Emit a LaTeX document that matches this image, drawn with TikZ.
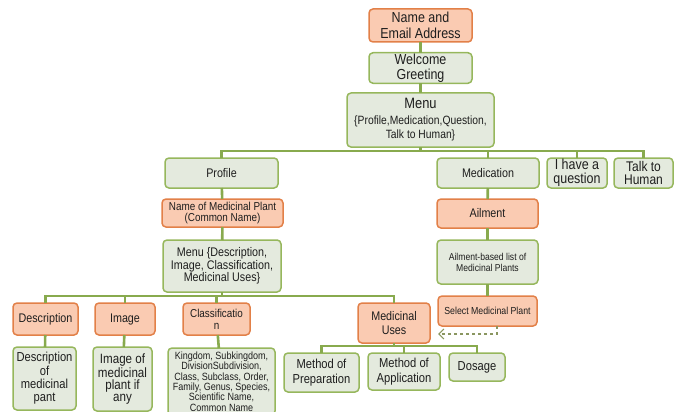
\documentclass[tikz,border=0pt]{standalone}
\usepackage{fontspec}
\setmainfont[FakeStretch=0.86]{Liberation Sans}
\usetikzlibrary{arrows.meta,positioning}
\definecolor{orfill}{RGB}{250,203,178}
\definecolor{ordraw}{RGB}{226,128,72}
\definecolor{grfill}{RGB}{228,234,222}
\definecolor{grdraw}{RGB}{150,183,92}
\definecolor{grline}{RGB}{136,170,78}
\definecolor{txt}{RGB}{30,30,30}
\definecolor{dashcol}{RGB}{138,150,96}
\newcommand{\fsz}[2]{\fontsize{#1}{#2}\selectfont}

\begin{document}
\begin{tikzpicture}[x=1pt,y=-1pt,
  box/.style={draw,rectangle,rounded corners=4pt,line width=1.5pt,align=center,
    inner sep=1pt,outer sep=0pt,text=txt,font=\fsz{12.5}{13}},
  obox/.style={box,fill=orfill,draw=ordraw},
  gbox/.style={box,fill=grfill,draw=grdraw},
  link/.style={draw=grline,line width=2.6pt}]

  \useasboundingbox (0,0) rectangle (675,412);

  \coordinate (bar1) at (420.5,151);
  \coordinate (bar2) at (222,296);
  \coordinate (bar3) at (394,346);

  % top chain
  \node[obox,minimum width=103pt,minimum height=33pt,font=\fsz{14.5}{16}] (name) at (420.5,25.5) {Name and\\Email Address};
  \node[gbox,minimum width=103pt,minimum height=28pt,font=\fsz{14.5}{15}] (welcome) at (420.5,68) {Welcome\\Greeting};
  \node[gbox,minimum width=147pt,minimum height=54pt,font=\fsz{12}{14.5}] (menu) at (420.5,120)
    {{\fsz{15}{17}Menu}\\[1pt]\{Profile,Medication,Question,\\Talk to Human\}};

  \node[gbox,minimum width=113pt,minimum height=30pt] (profile) at (221.5,173) {Profile};
  \node[gbox,minimum width=102pt,minimum height=30pt] (medication) at (488,173) {Medication};
  \node[gbox,minimum width=60pt,minimum height=30pt,font=\fsz{14.5}{13.5}] (question) at (577,173) {I have a\\question};
  \node[gbox,minimum width=59pt,minimum height=30pt,font=\fsz{14}{13.5}] (talk) at (643.5,173) {Talk to\\Human};

  % profile branch
  \node[obox,minimum width=121pt,minimum height=28pt,font=\fsz{11.5}{11.5}] (plantname) at (222.5,213) {Name of Medicinal  Plant\\(Common  Name)};
  \node[gbox,minimum width=118pt,minimum height=52pt,font=\fsz{12.5}{12.5}] (menu2) at (222,266)
    {Menu \{Description,\\Image, Classification,\\Medicinal  Uses\}};

  \node[obox,minimum width=65pt,minimum height=32pt] (descr) at (45.5,319) {Description};
  \node[obox,minimum width=60pt,minimum height=32pt] (image) at (125,319) {Image};
  \node[obox,minimum width=67pt,minimum height=32pt,font=\fsz{11.5}{12}] (classif) at (216.5,319) {Classificatio\\n};
  \node[obox,minimum width=72pt,minimum height=40pt,font=\fsz{12.5}{14}] (meduses) at (394,323) {Medicinal\\Uses};

  \node[gbox,minimum width=63pt,minimum height=63pt,font=\fsz{13}{13.3}] (descrtxt) at (44.5,378.5) {Description\\of\\medicinal\\pant};
  \node[gbox,minimum width=59pt,minimum height=64pt,font=\fsz{13.5}{12.2}] (imagetxt) at (122.5,379) {Image of\\medicinal\\plant if\\any};
  \node[gbox,minimum width=107pt,minimum height=67pt,font=\fsz{10.5}{10.4}] (classtxt) at (221.5,381.5)
    {Kingdom, Subkingdom,\\DivisionSubdivision,\\Class, Subclass, Order,\\Family, Genus, Species,\\Scientific Name,\\Common Name};

  \node[gbox,minimum width=75pt,minimum height=39pt,font=\fsz{13}{15}] (prep) at (321.5,372.5) {Method of\\Preparation};
  \node[gbox,minimum width=72pt,minimum height=37pt,font=\fsz{13}{15}] (appl) at (404,371.5) {Method of\\Application};
  \node[gbox,minimum width=56pt,minimum height=28pt,font=\fsz{13}{14}] (dosage) at (477,367) {Dosage};

  % medication branch
  \node[obox,minimum width=101pt,minimum height=29pt] (ailment) at (487.5,213.5) {Ailment};
  \node[gbox,minimum width=101pt,minimum height=44pt,font=\fsz{10}{11}] (list) at (487.5,262) {Ailment-based  list of\\Medicinal Plants};
  \node[obox,minimum width=99pt,minimum height=30pt,font=\fsz{10.2}{11}] (select) at (487.5,311) {Select Medicinal Plant};

  \coordinate (turn) at (497,334);
  \coordinate (tip) at (438,334);

  % connectors
  \draw[link] (name) -- (welcome);
  \draw[link] (welcome) -- (menu);
  \foreach \n in {profile,medication,question,talk}
    \draw[link] (menu.south) -- (bar1) -| (\n.north);
  \draw[link] (profile) -- (plantname);
  \draw[link] (plantname) -- (menu2);
  \foreach \n in {descr,image,classif,meduses}
    \draw[link] (menu2.south) -- (bar2) -| (\n.north);
  \draw[link] (descr) -- (descrtxt);
  \draw[link] (image) -- (imagetxt);
  \draw[link] (classif) -- (classtxt);
  \foreach \n in {prep,appl,dosage}
    \draw[link] (meduses.south) -- (bar3) -| (\n.north);
  \draw[link] (medication) -- (ailment);
  \draw[link] (ailment) -- (list);
  \draw[link] (list) -- (select);

  \draw[dashed,dashcol,line width=1.2pt,-{Straight Barb[length=5pt,width=10pt]}]
    (select.south -| turn) -- (turn) -- (tip);
\end{tikzpicture}
\end{document}
